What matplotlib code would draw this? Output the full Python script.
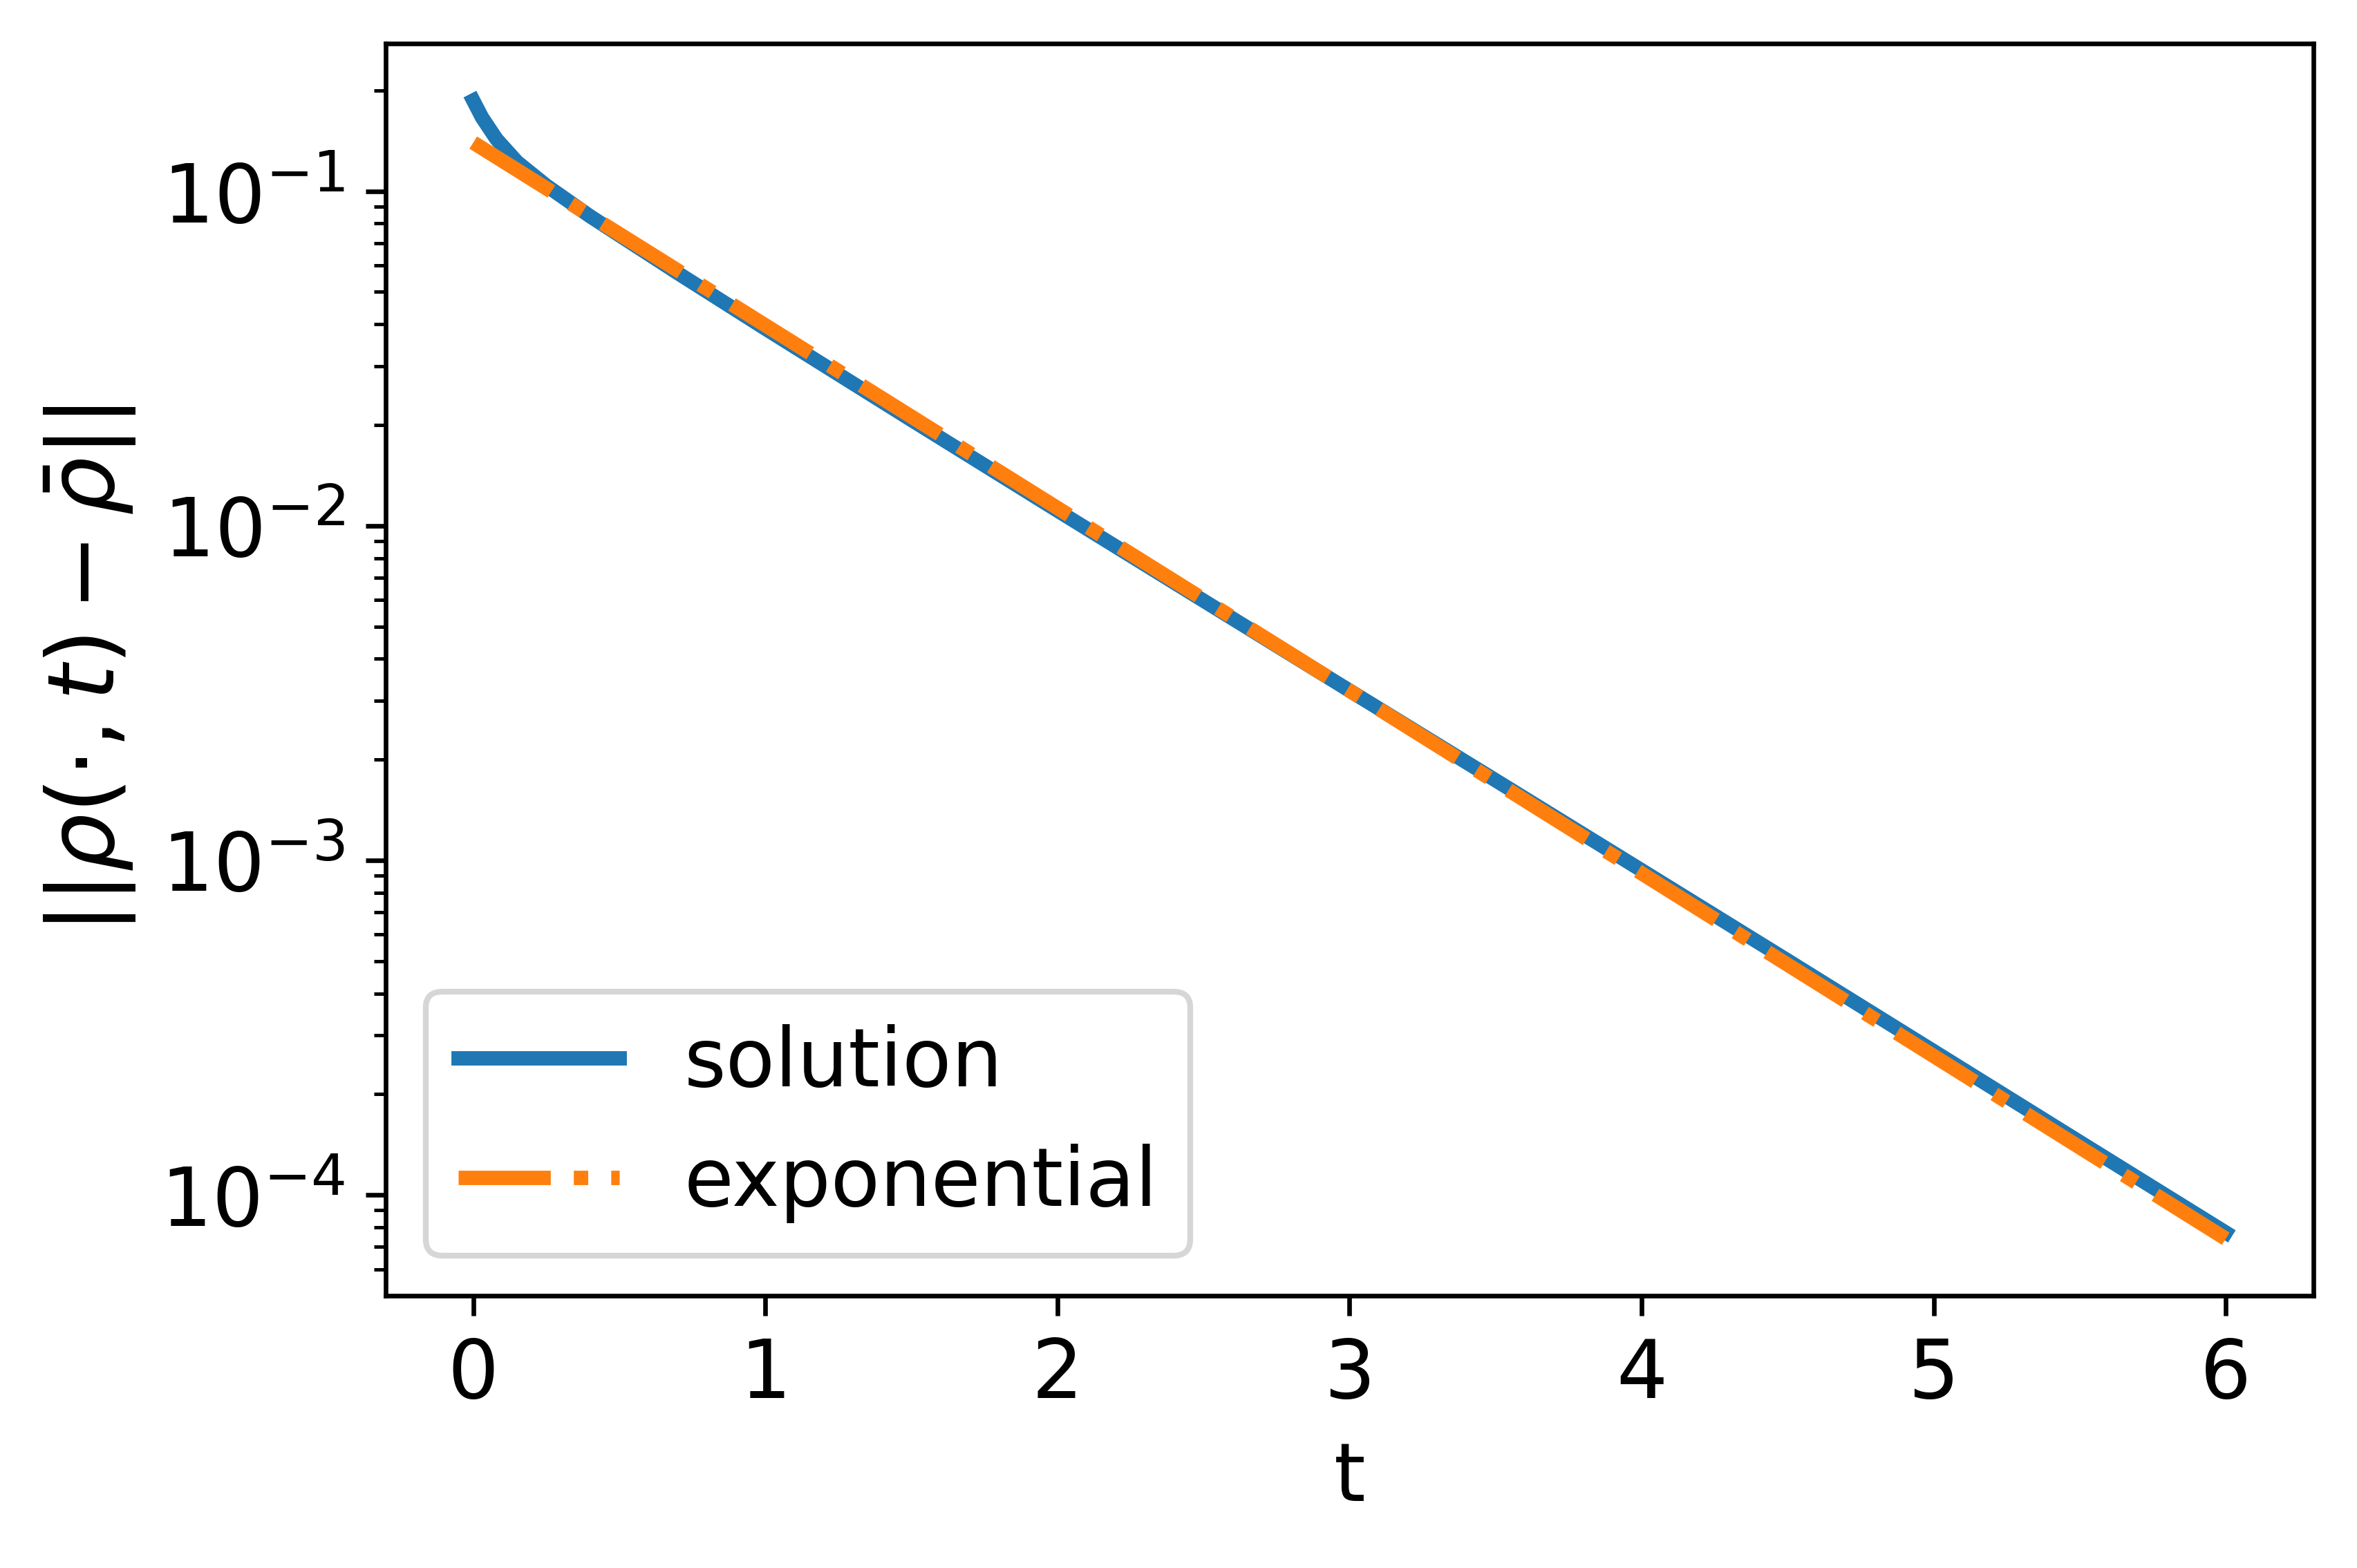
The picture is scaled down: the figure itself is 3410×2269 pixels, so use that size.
import matplotlib
matplotlib.use('Agg')
from matplotlib import pyplot as plt

# values
t_sol = [0.0, 0.03, 0.08, 0.15, 0.25, 0.4, 0.7, 1.0, 1.5, 2.0, 2.5,
         3.0, 3.5, 4.0, 4.5, 5.0, 5.5, 6.0]
rho_sol = [0.1865, 0.1660, 0.1428, 0.1222, 0.1039, 0.0841, 0.0569,
           0.03882, 0.02071, 0.01110, 0.005972, 0.003216, 0.001735,
           0.000934, 0.000502, 0.0002689, 0.0001440, 0.0000772]

t_exp = [0.0, 6.0]
rho_exp = [0.1396, 0.0000740]

plt.rcParams['font.size'] = 14

fig = plt.figure(figsize=(3410 / 600, 2269 / 600), dpi=600)
ax = fig.add_axes([0.1636, 0.1737, 0.8179, 0.7985])

ax.plot(t_sol, rho_sol, lw=2.5, label='solution')
ax.plot(t_exp, rho_exp, '-.', lw=2.5, label='exponential')
ax.set_yscale('log')
ax.set_xlabel('t')
ax.set_ylabel(r'$||\rho(\cdot,t) - \bar{\rho}||$', fontsize=16)
ax.legend(loc='lower left')

fig.savefig('out.png', dpi=600)
